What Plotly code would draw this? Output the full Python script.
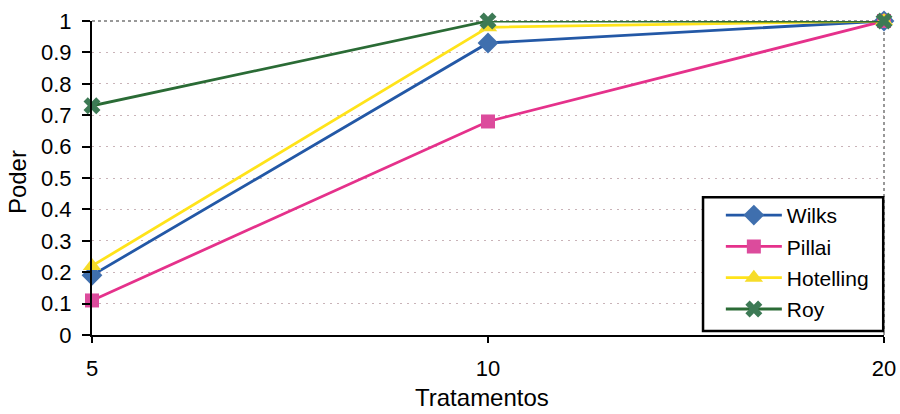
import plotly.graph_objects as go

categories = ["5", "10", "20"]
wilks = [0.19, 0.93, 1.0]
pillai = [0.11, 0.68, 1.0]
hotelling = [0.22, 0.98, 1.0]
roy = [0.73, 1.0, 1.0]
y_ticks = [0, 0.1, 0.2, 0.3, 0.4, 0.5, 0.6, 0.7, 0.8, 0.9, 1]
y_tick_labels = ["0", "0.1", "0.2", "0.3", "0.4", "0.5", "0.6", "0.7", "0.8", "0.9", "1"]
x_title = "Tratamentos"
y_title = "Poder"

series = [
    ("Wilks", wilks, "#2358a6", "#3f6fae", "diamond", 16),
    ("Pillai", pillai, "#e5318b", "#dc4b9c", "square", 14),
    ("Hotelling", hotelling, "#ffe31a", "#f6dc2a", "triangle-up", 16),
    ("Roy", roy, "#2a6b35", "#3d7a55", "x", 15),
]

fig = go.Figure()
for name, vals, lc, mc, sym, ms in series:
    fig.add_trace(go.Scatter(
        x=categories, y=vals, name=name, mode="lines+markers",
        line=dict(color=lc, width=2.8),
        marker=dict(symbol=sym, size=ms, color=mc, line=dict(width=0)),
        cliponaxis=False, legendgroup=name,
    ))

font = "Liberation Sans, Arial, sans-serif"
fig.update_layout(
    width=900, height=414,
    margin=dict(l=92, r=16, t=21, b=79, autoexpand=False),
    paper_bgcolor="white", plot_bgcolor="white",
    font=dict(family=font, size=22, color="black"),
    showlegend=True,
    legend=dict(
        x=0.794, xanchor="left", y=0.446, yanchor="top",
        bgcolor="rgba(0,0,0,0)", borderwidth=0,
        font=dict(size=21), itemwidth=56, tracegroupgap=1,
    ),
    xaxis=dict(
        type="category", range=[0, 2], automargin=False,
        showline=True, linecolor="black", linewidth=2,
        ticks="outside", ticklen=6, tickwidth=2, tickcolor="black",
        showgrid=False, zeroline=False,
        ticklabelstandoff=7,
    ),
    yaxis=dict(
        range=[0, 1], tickvals=y_ticks, ticktext=y_tick_labels, automargin=False,
        showline=True, linecolor="black", linewidth=2,
        ticks="outside", ticklen=8, tickwidth=2, tickcolor="black",
        ticklabelstandoff=6,
        showgrid=True, gridcolor="#c9b3b8", griddash="2px,5px", gridwidth=1.2,
        zeroline=False,
    ),
    annotations=[
        dict(text=x_title, xref="paper", yref="paper", x=0.4924, y=-0.199,
             xanchor="center", yanchor="middle", showarrow=False,
             font=dict(size=24)),
        dict(text=y_title, xref="paper", yref="paper", x=-0.0947, y=0.487,
             xanchor="center", yanchor="middle", showarrow=False, textangle=-90,
             font=dict(size=24)),
    ],
    shapes=[
        dict(type="line", xref="paper", yref="paper", x0=0, x1=1, y0=1, y1=1,
             line=dict(color="#777777", width=1.5, dash="dot"), layer="below"),
        dict(type="line", xref="paper", yref="paper", x0=1, x1=1, y0=0, y1=1,
             line=dict(color="#777777", width=1.5, dash="dot"), layer="below"),
        dict(type="rect", xref="paper", yref="paper",
             x0=0.7715, x1=0.999, y0=0.0127, y1=0.439,
             fillcolor="white", line=dict(color="black", width=2.5), layer="above"),
    ],
)

fig.write_html("out.html")
